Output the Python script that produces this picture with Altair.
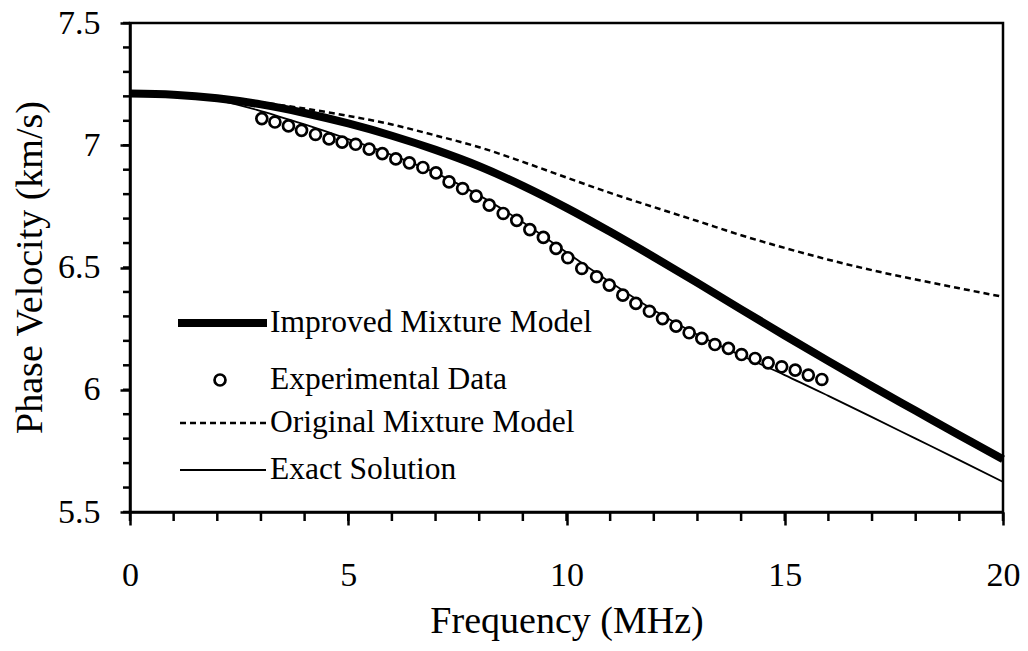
import altair as alt
import pandas as pd

# ---- data ----
model_freq = [0, 1, 2, 3, 4, 5, 6, 7, 8, 9, 10, 11, 12, 13, 14, 15, 16, 17, 18, 19, 20]
improved = [7.212, 7.207, 7.192, 7.167, 7.132, 7.089, 7.039, 6.981, 6.914, 6.834, 6.744,
            6.646, 6.543, 6.437, 6.329, 6.222, 6.117, 6.014, 5.914, 5.814, 5.716]
original = [7.212, 7.208, 7.195, 7.175, 7.150, 7.120, 7.085, 7.040, 6.992, 6.932, 6.868,
            6.805, 6.747, 6.690, 6.632, 6.580, 6.532, 6.489, 6.451, 6.415, 6.380]
exact = [7.212, 7.206, 7.185, 7.140, 7.085, 7.025, 6.960, 6.887, 6.795, 6.685, 6.562,
         6.440, 6.325, 6.225, 6.140, 6.060, 5.975, 5.888, 5.800, 5.712, 5.623]

exp_freq = [3.02, 3.32, 3.63, 3.93, 4.25, 4.56, 4.86, 5.17, 5.48, 5.78, 6.09, 6.40, 6.71,
            7.01, 7.31, 7.62, 7.93, 8.23, 8.55, 8.86, 9.16, 9.47, 9.76, 10.03, 10.35,
            10.69, 10.98, 11.29, 11.59, 11.90, 12.20, 12.51, 12.81, 13.10, 13.40, 13.71,
            14.01, 14.32, 14.62, 14.93, 15.24, 15.54, 15.85]
exp_vel = [7.109, 7.095, 7.079, 7.061, 7.044, 7.026, 7.013, 7.004, 6.984, 6.966, 6.944,
           6.928, 6.909, 6.887, 6.850, 6.823, 6.792, 6.755, 6.721, 6.693, 6.655, 6.623,
           6.578, 6.540, 6.496, 6.462, 6.428, 6.387, 6.353, 6.321, 6.291, 6.260, 6.233,
           6.210, 6.185, 6.169, 6.144, 6.128, 6.110, 6.094, 6.080, 6.060, 6.042]

x_major = [0, 5, 10, 15, 20]
x_minor = [0, 1, 2, 3, 4, 5, 6, 7, 8, 9, 10, 11, 12, 13, 14, 15, 16, 17, 18, 19, 20]
y_major = [5.5, 6.0, 6.5, 7.0, 7.5]
y_minor = [5.5, 5.6, 5.7, 5.8, 5.9, 6.0, 6.1, 6.2, 6.3, 6.4, 6.5, 6.6, 6.7, 6.8, 6.9,
           7.0, 7.1, 7.2, 7.3, 7.4, 7.5]

legend_names = ["Improved Mixture Model", "Experimental Data",
                "Original Mixture Model", "Exact Solution"]

FONT = "Liberation Serif"

models = pd.DataFrame({"f": model_freq, "imp": improved, "orig": original, "exact": exact})
expdf = pd.DataFrame({"f": exp_freq, "v": exp_vel})

xscale = alt.Scale(domain=[0, 20], nice=False, zero=False)
yscale = alt.Scale(domain=[5.5, 7.5], nice=False, zero=False)

x_axis = alt.Axis(
    values=x_major, labelExpr="format(datum.value, '~g')", tickSize=13,
    labelPadding=33, labelOverlap=False, labelFlush=False,
    title="Frequency (MHz)", grid=False,
    titleFontSize=38, titleX=436.5, titleY=120, titleAlign="center", titleBaseline="alphabetic",
)
y_axis = alt.Axis(
    values=y_major, labelExpr="format(datum.value, '~g')", tickSize=10,
    labelPadding=20, labelOverlap=False, labelFlush=False,
    title="Phase Velocity (km/s)", grid=False,
    titleFontSize=38,
    titleX=-100, titleY=244, titleAngle=270, titleAlign="center", titleBaseline="middle",
)

base = alt.Chart(models)

imp_line = base.mark_line(color="black", strokeWidth=8, interpolate="monotone", strokeCap="butt").encode(
    x=alt.X("f:Q", scale=xscale, axis=x_axis),
    y=alt.Y("imp:Q", scale=yscale, axis=y_axis),
)
orig_line = base.mark_line(color="black", strokeWidth=2.5, strokeDash=[6, 4], interpolate="monotone").encode(
    x=alt.X("f:Q", scale=xscale), y=alt.Y("orig:Q", scale=yscale)
)
exact_line = base.mark_line(color="black", strokeWidth=1.8, interpolate="monotone").encode(
    x=alt.X("f:Q", scale=xscale), y=alt.Y("exact:Q", scale=yscale)
)
pts = alt.Chart(expdf).mark_point(shape="circle", size=120, fill="white", stroke="black",
                                  strokeWidth=2.7, opacity=1, filled=True).encode(
    x=alt.X("f:Q", scale=xscale), y=alt.Y("v:Q", scale=yscale)
)

# minor ticks (outside the plot, drawn through the same scales)
xminor_rules = alt.Chart(pd.DataFrame({"t": x_minor})).mark_rule(color="black", strokeWidth=2.5).encode(
    x=alt.X("t:Q", scale=xscale), y=alt.value(489), y2=alt.value(498))
yminor_rules = alt.Chart(pd.DataFrame({"t": y_minor})).mark_rule(color="black", strokeWidth=2.5).encode(
    y=alt.Y("t:Q", scale=yscale), x=alt.value(-7), x2=alt.value(0))

# ---- hand-drawn legend (inside plot, lower left) ----
def one(name):
    return alt.Data(values=[{"name": name}])

leg_y = [300, 357, 400, 447]
leg_text_x = 140
leg = []
leg.append(alt.Chart(one(legend_names[0])).mark_rule(color="black", strokeWidth=8, strokeCap="butt").encode(
    x=alt.value(48), x2=alt.value(137), y=alt.value(leg_y[0])))
leg.append(alt.Chart(one(legend_names[1])).mark_point(shape="circle", size=120, fill="white", stroke="black",
                                                     strokeWidth=2.7, opacity=1, filled=True).encode(
    x=alt.value(90), y=alt.value(leg_y[1])))
leg.append(alt.Chart(one(legend_names[2])).mark_rule(color="black", strokeWidth=2.5, strokeDash=[6, 4]).encode(
    x=alt.value(50), x2=alt.value(136), y=alt.value(leg_y[2])))
leg.append(alt.Chart(one(legend_names[3])).mark_rule(color="black", strokeWidth=1.8).encode(
    x=alt.value(50), x2=alt.value(136), y=alt.value(leg_y[3])))
for name, yy in zip(legend_names, leg_y):
    leg.append(alt.Chart(one(name)).mark_text(align="left", baseline="middle", font=FONT, fontSize=31.5,
                                              color="black").encode(
        x=alt.value(leg_text_x), y=alt.value(yy), text="name:N"))

chart = alt.layer(orig_line, exact_line, imp_line, pts, xminor_rules, yminor_rules, *leg).properties(
    width=873, height=489,
    autosize=alt.AutoSizeParams(type="none"),
    padding={"left": 122, "top": 15, "right": 17, "bottom": 131},
    background="white",
).configure_view(stroke="black", strokeWidth=2.5).configure_axis(
    domainColor="black", domainWidth=2.5, tickColor="black", tickWidth=2.5,
    labelFont=FONT, labelFontSize=34, labelColor="black",
    titleFont=FONT, titleColor="black", titleFontWeight="normal",
)

chart.save("out.html", embed_options={"renderer": "svg", "actions": False})
